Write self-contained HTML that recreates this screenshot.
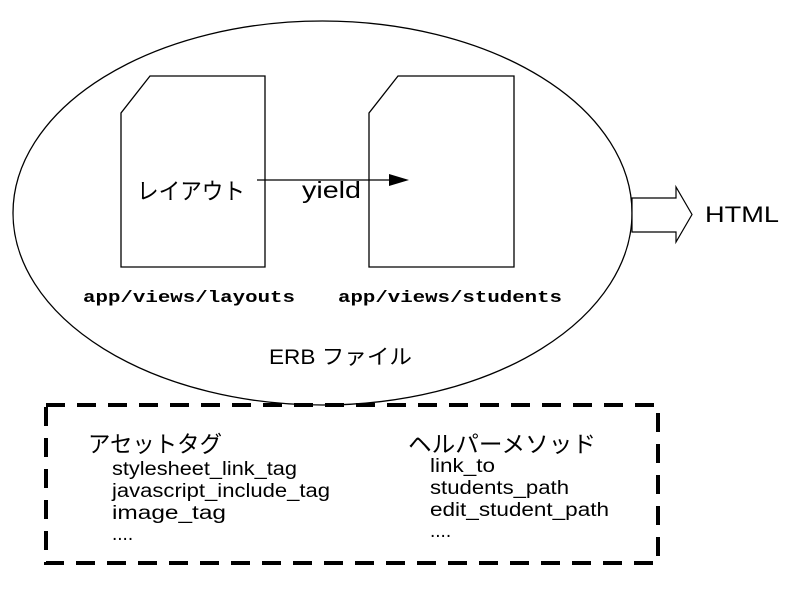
<!DOCTYPE html>
<html><head><meta charset="utf-8"><style>
body{margin:0;background:#fff}
svg text{font-family:"Liberation Sans","Noto Sans CJK JP",sans-serif;fill:#000}
.m{font-family:"Liberation Mono",monospace !important;font-size:17px}
</style></head><body>
<svg width="801" height="590" viewBox="0 0 801 590">
<ellipse cx="322.5" cy="213" rx="309.5" ry="192" fill="none" stroke="#000" stroke-width="1.3"/>
<path d="M150,76 H265 V267 H121 V113 Z" fill="#fff" stroke="#000" stroke-width="1.3"/>
<path d="M398,76 H514 V267 H369 V113 Z" fill="#fff" stroke="#000" stroke-width="1.3"/>
<line x1="257" y1="180" x2="392" y2="180" stroke="#000" stroke-width="1.3"/>
<polygon points="389,174 409,180 389,186" fill="#000"/>
<text x="137" y="199" font-size="23" textLength="108" lengthAdjust="spacingAndGlyphs">レイアウト</text>
<text x="302" y="198" font-size="23" textLength="59" lengthAdjust="spacingAndGlyphs">yield</text>
<text x="83" y="302" class="m" font-weight="bold" textLength="212" lengthAdjust="spacingAndGlyphs">app/views/layouts</text>
<text x="338" y="302" class="m" font-weight="bold" textLength="224" lengthAdjust="spacingAndGlyphs">app/views/students</text>
<text x="269" y="364" font-size="21" textLength="143" lengthAdjust="spacingAndGlyphs">ERB ファイル</text>
<polygon points="632,198 676,198 676,187 692,214.5 676,242 676,232 632,232" fill="#fff" stroke="#000" stroke-width="1.2"/>
<text x="705" y="222" font-size="22" textLength="74" lengthAdjust="spacingAndGlyphs">HTML</text>
<rect x="46" y="405" width="612" height="158" fill="none" stroke="#000" stroke-width="4" stroke-dasharray="19 12"/>
<text x="88" y="452" font-size="23" textLength="134" lengthAdjust="spacingAndGlyphs">アセットタグ</text>
<text x="112" y="475" font-size="19" textLength="185" lengthAdjust="spacingAndGlyphs">stylesheet_link_tag</text>
<text x="112" y="497" font-size="19" textLength="218" lengthAdjust="spacingAndGlyphs">javascript_include_tag</text>
<text x="112" y="519" font-size="19" textLength="114" lengthAdjust="spacingAndGlyphs">image_tag</text>
<text x="112" y="540" font-size="19">....</text>
<text x="408" y="452" font-size="23" textLength="188" lengthAdjust="spacingAndGlyphs">ヘルパーメソッド</text>
<text x="430" y="472" font-size="19" textLength="65" lengthAdjust="spacingAndGlyphs">link_to</text>
<text x="430" y="494" font-size="19" textLength="139" lengthAdjust="spacingAndGlyphs">students_path</text>
<text x="430" y="516" font-size="19" textLength="179" lengthAdjust="spacingAndGlyphs">edit_student_path</text>
<text x="430" y="537" font-size="19">....</text>
</svg>
</body></html>
